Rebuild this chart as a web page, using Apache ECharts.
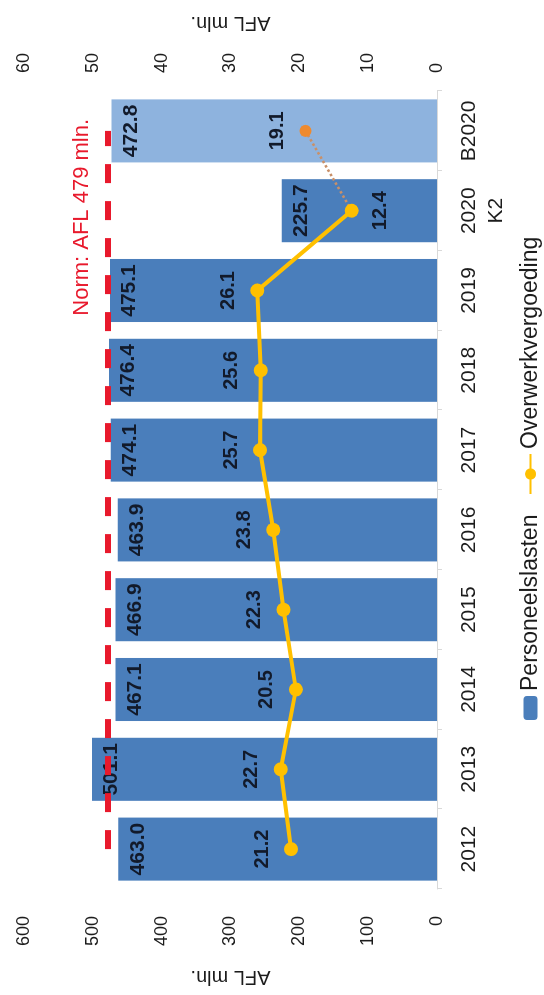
<!DOCTYPE html>
<html>
<head>
<meta charset="utf-8">
<script src="https://cdn.jsdelivr.net/npm/echarts@6/dist/echarts.min.js"></script>
<style>
  html, body { margin:0; padding:0; width:544px; height:995px; overflow:hidden; background:#fff; }
  #wrap { position:absolute; left:0; top:0; width:995px; height:544px; transform-origin:0 0; transform:translate(0px,995px) rotate(-90deg); }
</style>
</head>
<body>
<div id="wrap"></div>
<script>
const categories = ['2012','2013','2014','2015','2016','2017','2018','2019','2020\nK2','B2020'];
const personeelslasten = [463.0, 501.1, 467.1, 466.9, 463.9, 474.1, 476.4, 475.1, 225.7, 472.8];
const overwerkvergoeding = [21.2, 22.7, 20.5, 22.3, 23.8, 25.7, 25.6, 26.1, 12.4, null];
const begroting = [null, null, null, null, null, null, null, null, 12.4, 19.1];
const normValue = 479;
const normLabel = 'Norm: AFL 479 mln.';
const leftAxis = { min: 0, max: 600, interval: 100, name: 'AFL mln.' };
const rightAxis = { min: 0, max: 60, interval: 10, name: 'AFL mln.' };

const FONT = "'Liberation Sans', Arial, sans-serif";
const TXT = '#1c1c1c';
const LBL = '#121a2a';
const darkBlue = '#4A7EBB';
const lightBlue = '#8EB3DE';
const gold = '#FFC000';

const chart = echarts.init(document.getElementById('wrap'), null, { renderer: 'canvas', width: 995, height: 544 });

const barData = personeelslasten.map((v, i) => ({
  value: v,
  itemStyle: { color: categories[i] === 'B2020' ? lightBlue : darkBlue }
}));
const lineData = overwerkvergoeding.map((v, i) => v == null ? '-' : ({
  value: v,
  label: { position: i === 8 ? 'bottom' : 'top' }
}));
const begData = begroting.map((v, i) => {
  if (v == null) return '-';
  if (i === begroting.length - 1) return { value: v, symbol: 'circle', symbolSize: 12, itemStyle: { color: '#EE8A2E' }, label: { show: true, position: 'top' } };
  return { value: v, symbol: 'none', label: { show: false } };
});

chart.setOption({
  animation: false,
  textStyle: { fontFamily: FONT },
  grid: { left: 100, right: 91, top: 24, bottom: 107 },
  legend: [
    { data: ['Personeelslasten'], left: 270, top: 514, itemWidth: 24, itemHeight: 14, itemGap: 8,
      textStyle: { fontSize: 23, color: TXT, fontFamily: FONT } },
    { data: ['Overwerkvergoeding'], left: 495, top: 514, itemWidth: 40, itemHeight: 14,
      textStyle: { fontSize: 23, color: TXT, fontFamily: FONT } }
  ],
  xAxis: {
    type: 'category',
    data: categories,
    axisLine: { lineStyle: { color: '#d9d9d9', width: 1 } },
    axisTick: { show: true, alignWithLabel: false, length: 5, lineStyle: { color: '#d9d9d9' } },
    axisLabel: { margin: 19, fontSize: 21, lineHeight: 27, color: TXT, fontFamily: FONT, interval: 0 }
  },
  yAxis: [
    { type: 'value', min: leftAxis.min, max: leftAxis.max, interval: leftAxis.interval,
      name: leftAxis.name, nameLocation: 'middle', nameGap: 78, nameTextStyle: { fontSize: 20, color: TXT, fontFamily: FONT },
      axisLine: { show: false }, axisTick: { show: false }, splitLine: { show: false },
      axisLabel: { margin: 27, fontSize: 18, color: TXT, fontFamily: FONT } },
    { type: 'value', position: 'right', min: rightAxis.min, max: rightAxis.max, interval: rightAxis.interval,
      name: rightAxis.name, nameLocation: 'middle', nameRotate: 90, nameGap: 58, nameTextStyle: { fontSize: 20, color: TXT, fontFamily: FONT },
      axisLine: { show: false }, axisTick: { show: false }, splitLine: { show: false },
      axisLabel: { margin: 18, fontSize: 18, color: TXT, fontFamily: FONT } }
  ],
  series: [
    {
      name: 'Personeelslasten', type: 'bar', barCategoryGap: '21%', yAxisIndex: 0,
      itemStyle: { color: darkBlue },
      data: barData,
      label: { show: true, position: 'insideTop', distance: 9, fontSize: 21, fontWeight: 'bold', color: LBL, fontFamily: FONT,
        formatter: p => Number(p.value).toFixed(1) },
      markLine: {
        silent: true, symbol: ['none', 'none'],
        lineStyle: { color: '#E8192C', width: 6, type: [19, 18] },
        label: { show: true, formatter: normLabel, position: 'insideEndTop', distance: [-12, 14],
          color: '#E8192C', fontSize: 22, fontFamily: FONT },
        data: [[ { coord: [categories[0], normValue] }, { coord: [categories[categories.length - 1], normValue] } ]]
      }
    },
    {
      name: 'Begroting', type: 'line', yAxisIndex: 1, z: 3,
      data: begData,
      lineStyle: { color: '#C99068', width: 2.5, type: 'dotted' },
      itemStyle: { color: '#EE8A2E' },
      label: { fontSize: 20, fontWeight: 'bold', color: LBL, fontFamily: FONT, distance: 12 }
    },
    {
      name: 'Overwerkvergoeding', type: 'line', yAxisIndex: 1, z: 4,
      data: lineData,
      symbol: 'circle', symbolSize: 14,
      lineStyle: { color: gold, width: 4 },
      itemStyle: { color: gold },
      label: { show: true, fontSize: 20, fontWeight: 'bold', color: LBL, fontFamily: FONT, distance: 12 }
    }
  ]
});
</script>
</body>
</html>
